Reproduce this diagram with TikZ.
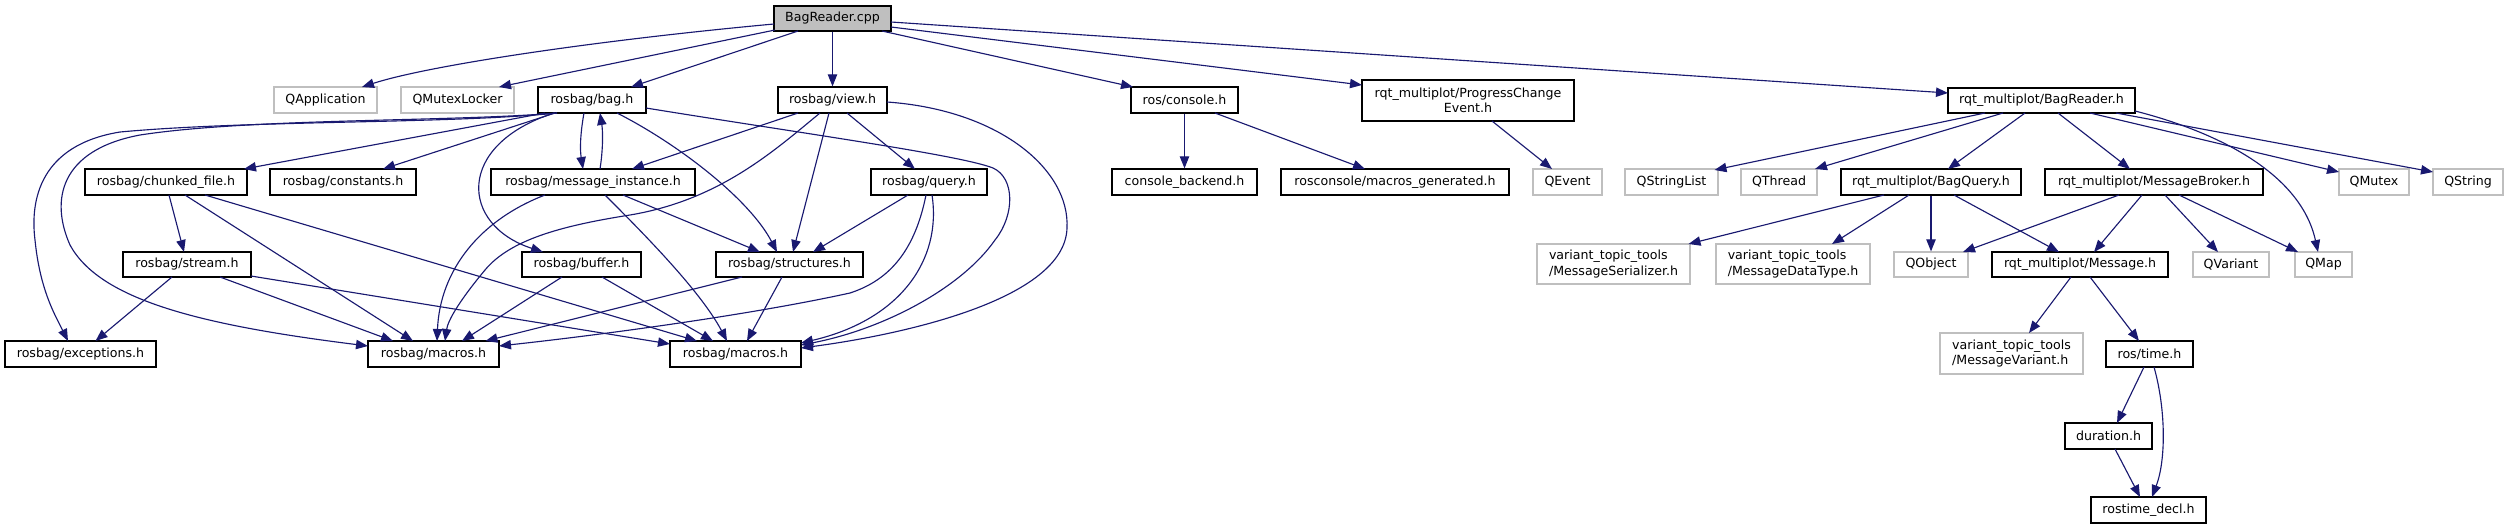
\documentclass[tikz,border=0pt]{standalone}
\usepackage{fontspec}
\setmainfont{DejaVu Sans}
\usetikzlibrary{arrows.meta,calc}
\definecolor{extgray}{HTML}{BFBFBF}
\definecolor{edgeblue}{HTML}{191970}
\begin{document}
\begin{tikzpicture}[x=0.75pt,y=-0.75pt,
  every node/.style={font=\fontsize{9.45}{11.5}\selectfont},
  sz/.style 2 args={minimum width=#1*0.75pt, minimum height=#2*0.75pt},
  doc/.style={draw=black, line width=0.9pt, fill=white, inner sep=0pt, rectangle},
  ext/.style={draw=extgray, line width=0.9pt, fill=white, inner sep=0pt, rectangle},
  edge/.style={draw=edgeblue, line width=0.85pt, -{Triangle[length=9pt,width=7pt]}}
]
\useasboundingbox (0,0) rectangle (2509,529);

% row 1
\node[doc, fill=extgray, sz={117}{25}] (cpp) at (832.5,18.5) {BagReader.cpp};
% row 2
\node[ext, sz={103}{26}] (qapp) at (325.5,100) {QApplication};
\node[ext, sz={113}{26}] (qml) at (457.5,100) {QMutexLocker};
\node[doc, sz={108}{26}] (bag) at (592,100) {rosbag/bag.h};
\node[doc, sz={109}{26}] (view) at (832.5,100) {rosbag/view.h};
\node[doc, sz={107}{26}] (console) at (1184.5,100) {ros/console.h};
\node[doc, sz={212}{41}, align=center] (pce) at (1468,100.5) {rqt\_multiplot/ProgressChange\\Event.h};
\node[doc, sz={187}{25}] (brh) at (2041.5,100.5) {rqt\_multiplot/BagReader.h};
% row 3
\node[doc, sz={162}{26}] (chunk) at (166,182) {rosbag/chunked\_file.h};
\node[doc, sz={146}{26}] (const) at (343,182) {rosbag/constants.h};
\node[doc, sz={204}{26}] (mi) at (593,182) {rosbag/message\_instance.h};
\node[doc, sz={116}{26}] (query) at (929,182) {rosbag/query.h};
\node[doc, sz={145}{26}] (cback) at (1184.5,182) {console\_backend.h};
\node[doc, sz={228}{26}] (mgen) at (1395,182) {rosconsole/macros\_generated.h};
\node[ext, sz={69}{26}] (qevent) at (1567.5,182) {QEvent};
\node[ext, sz={93}{26}] (qsl) at (1671.5,182) {QStringList};
\node[ext, sz={76}{26}] (qthr) at (1779,182) {QThread};
\node[doc, sz={180}{26}] (bq) at (1931,182) {rqt\_multiplot/BagQuery.h};
\node[doc, sz={218}{26}] (mb) at (2154,182) {rqt\_multiplot/MessageBroker.h};
\node[ext, sz={70}{26}] (qmutex) at (2374,182) {QMutex};
\node[ext, sz={70}{26}] (qstr) at (2468,182) {QString};
% row 4
\node[doc, sz={128}{25}] (stream) at (187,264.5) {rosbag/stream.h};
\node[doc, sz={119}{25}] (buffer) at (581.5,264.5) {rosbag/buffer.h};
\node[doc, sz={147}{25}] (struct) at (789.5,264.5) {rosbag/structures.h};
\node[ext, sz={153}{40}, align=left] (mser) at (1613.5,264) {variant\_topic\_tools\\/MessageSerializer.h};
\node[ext, sz={154}{40}, align=left] (mdt) at (1793,264) {variant\_topic\_tools\\/MessageDataType.h};
\node[ext, sz={74}{25}] (qobj) at (1931,264.5) {QObject};
\node[doc, sz={176}{25}] (msg) at (2080,264.5) {rqt\_multiplot/Message.h};
\node[ext, sz={76}{25}] (qvar) at (2231,264.5) {QVariant};
\node[ext, sz={57}{25}] (qmap) at (2323.5,264.5) {QMap};
% row 5
\node[doc, sz={151}{26}] (exc) at (80.5,354) {rosbag/exceptions.h};
\node[doc, sz={131}{26}] (mac1) at (433.5,354) {rosbag/macros.h};
\node[doc, sz={131}{26}] (mac2) at (735.5,354) {rosbag/macros.h};
\node[ext, sz={143}{41}, align=left] (mvar) at (2011.5,353.5) {variant\_topic\_tools\\/MessageVariant.h};
\node[doc, sz={87}{26}] (time) at (2149.5,354) {ros/time.h};
% rows 6-7
\node[doc, sz={87}{26}] (dur) at (2108.5,436) {duration.h};
\node[doc, sz={115}{26}] (rtd) at (2148.5,510) {rostime\_decl.h};

% edges from BagReader.cpp
\draw[edge] ($(cpp)+(-58.5,5.5)$) .. controls (600,40) and (430,65) .. ($(qapp)+(36.5,-13)$);
\draw[edge] ($(cpp)+(-57.5,11.5)$) -- ($(qml)+(41.5,-13)$);
\draw[edge] ($(cpp)+(-34.5,12.5)$) -- ($(bag)+(39,-13)$);
\draw[edge] (cpp.south) -- (view.north);
\draw[edge] ($(cpp)+(49.5,12.5)$) -- ($(console)+(-51.5,-13)$);
\draw[edge] ($(cpp)+(58.5,8.5)$) -- ($(pce)+(-106,-15.5)$);
\draw[edge] ($(cpp)+(58.5,3.5)$) -- ($(brh)+(-93.5,-7.5)$);

% edges from rosbag/bag.h
\draw[edge] ($(bag)+(-47,13)$) -- ($(chunk)+(78,-13)$);
\draw[edge] ($(bag)+(-37,13)$) -- ($(const)+(40,-13)$);
\draw[edge] ($(bag)+(-8,13)$) .. controls (580,135) and (580,150) .. ($(mi)+(-10,-13)$);
\draw[edge] ($(mi)+(7,-13)$) .. controls (603,150) and (603,132) .. ($(bag)+(8,13)$);
\draw[edge] ($(bag)+(-38,13)$) .. controls (455,145) and (460,225) .. ($(buffer)+(-38.5,-12.5)$);
\draw[edge] ($(bag)+(25,13)$) .. controls (680,145) and (750,200) .. ($(struct)+(-12.5,-12.5)$);
\draw[edge] ($(bag)+(-35,13)$) .. controls (450,124) and (250,120) .. (120,132)
   .. controls (40,145) and (30,200) .. (35,240)
   .. controls (40,290) and (55,315) .. ($(exc)+(-12.5,-13)$);
\draw[edge] ($(bag)+(-35,13)$) .. controls (450,122) and (250,118) .. (140,135)
   .. controls (60,150) and (50,200) .. (70,245)
   .. controls (100,300) and (200,325) .. ($(mac1)+(-65.5,-8)$);
\draw[edge] ($(bag)+(54,8)$) .. controls (800,133) and (960,155) .. (993,168)
   .. controls (1015,178) and (1015,215) .. (995,240)
   .. controls (960,290) and (880,330) .. ($(mac2)+(65.5,-9)$);

% edges from rosbag/view.h
\draw[edge] ($(view)+(-34.5,13)$) -- ($(mi)+(39,-13)$);
\draw[edge] ($(view)+(-3.5,13)$) -- ($(struct)+(3.5,-12.5)$);
\draw[edge] ($(view)+(14.5,13)$) -- ($(query)+(-14,-13)$);
\draw[edge] ($(view)+(-12.5,13)$) .. controls (775,150) and (720,200) .. (630,215)
   .. controls (560,226) and (510,240) .. (485,270)
   .. controls (460,300) and (448,320) .. ($(mac1)+(11.5,-13)$);
\draw[edge] ($(view)+(54.5,2)$) .. controls (1000,110) and (1070,170) .. (1067,228)
   .. controls (1065,300) and (900,335) .. ($(mac2)+(65.5,-6)$);

% edges from rosbag/query.h
\draw[edge] ($(query)+(-21,13)$) -- ($(struct)+(23.5,-12.5)$);
\draw[edge] ($(query)+(-3,13)$) .. controls (915,250) and (890,280) .. (850,293)
   .. controls (750,315) and (600,335) .. ($(mac1)+(65.5,-8)$);
\draw[edge] ($(query)+(3,13)$) .. controls (942,260) and (900,320) .. ($(mac2)+(65.5,-11)$);

% edges from rosbag/message_instance.h
\draw[edge] ($(mi)+(30,13)$) -- ($(struct)+(-29.5,-12.5)$);
\draw[edge] ($(mi)+(-48,13)$) .. controls (480,220) and (440,270) .. ($(mac1)+(3.5,-13)$);
\draw[edge] ($(mi)+(12,13)$) .. controls (640,230) and (700,290) .. ($(mac2)+(-8.5,-13)$);

% edges from rosbag/chunked_file.h
\draw[edge] ($(chunk)+(3,13)$) -- ($(stream)+(-3,-12.5)$);
\draw[edge] ($(chunk)+(19,13)$) -- ($(mac1)+(-20.5,-13)$);
\draw[edge] ($(chunk)+(39,13)$) -- ($(mac2)+(-38.5,-13)$);

% edges from rosbag/stream.h
\draw[edge] ($(stream)+(-15,12.5)$) -- ($(exc)+(15,-13)$);
\draw[edge] ($(stream)+(33,12.5)$) -- ($(mac1)+(-40.5,-13)$);
\draw[edge] ($(stream)+(64,11.5)$) -- ($(mac2)+(-65.5,-10)$);

% edges from rosbag/buffer.h and rosbag/structures.h
\draw[edge] ($(buffer)+(-19.5,12.5)$) -- ($(mac1)+(28.5,-13)$);
\draw[edge] ($(buffer)+(20.5,12.5)$) -- ($(mac2)+(-22.5,-13)$);
\draw[edge] ($(struct)+(-47.5,12.5)$) -- ($(mac1)+(52,-13)$);
\draw[edge] ($(struct)+(-7.5,12.5)$) -- ($(mac2)+(11.5,-13)$);

% ros/console.h and ProgressChangeEvent.h
\draw[edge] (console.south) -- (cback.north);
\draw[edge] ($(console)+(30.5,13)$) -- ($(mgen)+(-30,-13)$);
\draw[edge] ($(pce)+(24,20.5)$) -- ($(qevent)+(-15.5,-13)$);

% edges from rqt_multiplot/BagReader.h
\draw[edge] ($(brh)+(-56.5,12.5)$) -- ($(qsl)+(43,-12)$);
\draw[edge] ($(brh)+(-38.5,12.5)$) -- ($(qthr)+(36,-13)$);
\draw[edge] ($(brh)+(-16.5,12.5)$) -- ($(bq)+(17,-13)$);
\draw[edge] ($(brh)+(16.5,12.5)$) -- ($(mb)+(-24,-13)$);
\draw[edge] ($(brh)+(48.5,12.5)$) -- ($(qmutex)+(-35,-10)$);
\draw[edge] ($(brh)+(74.5,12.5)$) -- ($(qstr)+(-35,-10)$);
\draw[edge] ($(brh)+(93.5,10.5)$) .. controls (2210,130) and (2300,170) .. ($(qmap)+(-5.5,-12.5)$);

% edges from BagQuery.h and MessageBroker.h
\draw[edge] ($(bq)+(-47,13)$) -- ($(mser)+(75,-20)$);
\draw[edge] ($(bq)+(-22,13)$) -- ($(mdt)+(39,-20)$);
\draw[edge] (bq.south) -- (qobj.north);
\draw[edge] ($(bq)+(23,13)$) -- ($(msg)+(-21,-12.5)$);
\draw[edge] ($(mb)+(-35,13)$) -- ($(qobj)+(32,-12.5)$);
\draw[edge] ($(mb)+(-12,13)$) -- ($(msg)+(14,-12.5)$);
\draw[edge] ($(mb)+(11,13)$) -- ($(qvar)+(-13,-12.5)$);
\draw[edge] ($(mb)+(25,13)$) -- ($(qmap)+(-25.5,-12.5)$);

% Message.h, ros/time.h, duration.h
\draw[edge] ($(msg)+(-9,12.5)$) -- ($(mvar)+(17.5,-20.5)$);
\draw[edge] ($(msg)+(10,12.5)$) -- ($(time)+(-10.5,-13)$);
\draw[edge] ($(time)+(-5.5,13)$) -- ($(dur)+(8.5,-13)$);
\draw[edge] ($(time)+(4.5,13)$) .. controls (2166,410) and (2166,460) .. ($(rtd)+(3.5,-13)$);
\draw[edge] ($(dur)+(6.5,13)$) -- ($(rtd)+(-8.5,-13)$);
\end{tikzpicture}
\end{document}
